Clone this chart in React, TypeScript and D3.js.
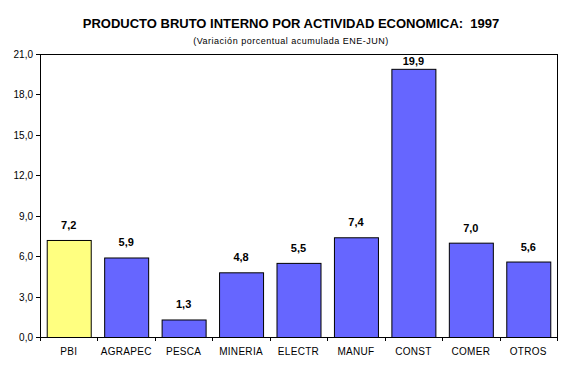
import React from 'react';
import * as d3 from 'd3';

const WIDTH = 572;
const HEIGHT = 367;
const PLOT = { left: 40, right: 557, top: 54, bottom: 337 };

const categories = ['PBI', 'AGRAPEC', 'PESCA', 'MINERIA', 'ELECTR', 'MANUF', 'CONST', 'COMER', 'OTROS'];
const values = [7.2, 5.9, 1.3, 4.8, 5.5, 7.4, 19.9, 7.0, 5.6];
const yTicks = [0, 3, 6, 9, 12, 15, 18, 21];

const fmt = (v: number) => v.toFixed(1).replace('.', ',');

export default function App() {
  const xScale = d3
    .scaleBand<string>()
    .domain(categories)
    .range([PLOT.left, PLOT.right])
    .paddingInner(0.234)
    .paddingOuter(0.117);
  const yScale = d3.scaleLinear().domain([0, 21]).range([PLOT.bottom, PLOT.top]);
  const step = xScale.step();

  const bars = categories.map((c, i) => {
    const x = xScale(c) ?? 0;
    const y = yScale(values[i]);
    const labelY = Math.max(y - 11, PLOT.top + 11);
    return (
      <g key={c}>
        <rect
          x={x + 0.5}
          y={y + 0.5}
          width={xScale.bandwidth()}
          height={PLOT.bottom - y}
          fill={i === 0 ? '#FFFF80' : '#6666FF'}
          stroke="#000"
          strokeWidth={1}
        />
        <text x={x + xScale.bandwidth() / 2} y={labelY} textAnchor="middle" fontSize={11} fontWeight="bold">
          {fmt(values[i])}
        </text>
        <text x={x + xScale.bandwidth() / 2} y={355} textAnchor="middle" fontSize={10} letterSpacing={0.3}>
          {c}
        </text>
      </g>
    );
  });

  const xTicks = d3.range(categories.length + 1).map((i) => {
    const x = Math.round(PLOT.left + i * step) + 0.5;
    return <line key={i} x1={x} x2={x} y1={PLOT.bottom} y2={PLOT.bottom + 4} stroke="#000" />;
  });

  const yAxis = yTicks.map((t) => {
    const y = Math.round(yScale(t)) + 0.5;
    return (
      <g key={t}>
        <line x1={PLOT.left - 4} x2={PLOT.left} y1={y} y2={y} stroke="#000" />
        <text x={33} y={y + 3.5} textAnchor="end" fontSize={10}>
          {fmt(t)}
        </text>
      </g>
    );
  });

  return (
    <svg
      width={WIDTH}
      height={HEIGHT}
      style={{ position: 'absolute', left: 0, top: 0, fontFamily: 'Arial, "Liberation Sans", sans-serif' }}
    >
      <rect x={0} y={0} width={WIDTH} height={HEIGHT} fill="#fff" />
      <text x={291} y={28} textAnchor="middle" fontSize={13} fontWeight="bold" style={{ whiteSpace: 'pre' }}>
        {'PRODUCTO BRUTO INTERNO POR ACTIVIDAD ECONOMICA:  1997'}
      </text>
      <text x={291} y={44} textAnchor="middle" fontSize={9} letterSpacing={0.5}>
        (Variación porcentual acumulada ENE-JUN)
      </text>
      <rect
        x={PLOT.left + 0.5}
        y={PLOT.top + 0.5}
        width={PLOT.right - PLOT.left}
        height={PLOT.bottom - PLOT.top}
        fill="none"
        stroke="#000"
      />
      {bars}
      {xTicks}
      {yAxis}
    </svg>
  );
}
